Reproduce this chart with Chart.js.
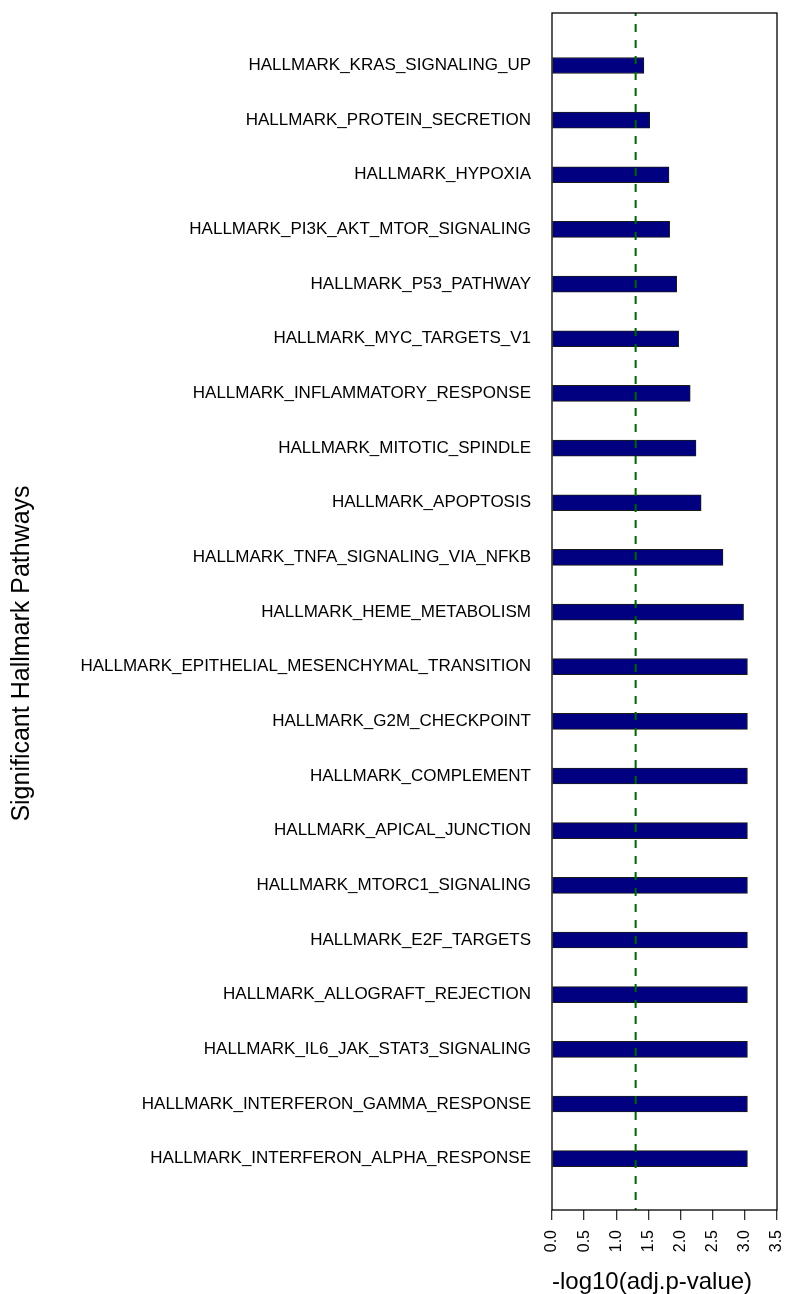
<!DOCTYPE html>
<html>
<head>
<meta charset="utf-8">
<title>Significant Hallmark Pathways</title>
<script src="https://cdn.jsdelivr.net/npm/chart.js@4/dist/chart.umd.min.js"></script>
<style>
  html, body { margin: 0; padding: 0; background: #ffffff; }
  #wrap { width: 786px; height: 1294px; position: relative; }
</style>
</head>
<body>
<div id="wrap"><canvas id="chart" width="786" height="1294"></canvas></div>
<script>
// Pathways, listed top to bottom as they appear on the plot
const pathways = [
  'HALLMARK_KRAS_SIGNALING_UP',
  'HALLMARK_PROTEIN_SECRETION',
  'HALLMARK_HYPOXIA',
  'HALLMARK_PI3K_AKT_MTOR_SIGNALING',
  'HALLMARK_P53_PATHWAY',
  'HALLMARK_MYC_TARGETS_V1',
  'HALLMARK_INFLAMMATORY_RESPONSE',
  'HALLMARK_MITOTIC_SPINDLE',
  'HALLMARK_APOPTOSIS',
  'HALLMARK_TNFA_SIGNALING_VIA_NFKB',
  'HALLMARK_HEME_METABOLISM',
  'HALLMARK_EPITHELIAL_MESENCHYMAL_TRANSITION',
  'HALLMARK_G2M_CHECKPOINT',
  'HALLMARK_COMPLEMENT',
  'HALLMARK_APICAL_JUNCTION',
  'HALLMARK_MTORC1_SIGNALING',
  'HALLMARK_E2F_TARGETS',
  'HALLMARK_ALLOGRAFT_REJECTION',
  'HALLMARK_IL6_JAK_STAT3_SIGNALING',
  'HALLMARK_INTERFERON_GAMMA_RESPONSE',
  'HALLMARK_INTERFERON_ALPHA_RESPONSE'
];

// -log10(adjusted p-value) for each pathway, same order
const negLog10AdjP = [
  1.43, 1.52, 1.82, 1.83, 1.94, 1.97, 2.15, 2.24, 2.32, 2.66,
  2.98, 3.04, 3.04, 3.04, 3.04, 3.04, 3.04, 3.04, 3.04, 3.04, 3.04
];

// x-axis tick values
const xTicks = [0, 0.5, 1.0, 1.5, 2.0, 2.5, 3.0, 3.5];

// significance cut-off (adj. p = 0.05)
const ADJ_P_CUTOFF = 0.05;
const cutoff = -Math.log10(ADJ_P_CUTOFF);

const n = pathways.length;
// bottom row gets position 1, top row gets position n
const rows = pathways.map((name, i) => ({ x: negLog10AdjP[i], y: n - i }));

const FONT = "'Liberation Sans', Arial, Helvetica, sans-serif";

const framePlugin = {
  id: 'frameAndCutoff',
  afterDatasetsDraw(chart) {
    const { ctx, chartArea: a, scales: { x } } = chart;
    const px = x.getPixelForValue(cutoff);
    ctx.save();
    ctx.beginPath();
    ctx.rect(a.left, a.top, a.right - a.left, a.bottom - a.top);
    ctx.clip();
    ctx.strokeStyle = '#006400';
    ctx.lineWidth = 2;
    ctx.setLineDash([8, 8]);
    ctx.lineDashOffset = 5;
    ctx.beginPath();
    ctx.moveTo(px, a.top);
    ctx.lineTo(px, a.bottom);
    ctx.stroke();
    ctx.restore();

    ctx.save();
    ctx.strokeStyle = '#000000';
    ctx.lineWidth = 1.3;
    ctx.strokeRect(a.left, a.top, a.right - a.left, a.bottom - a.top);
    ctx.restore();
  }
};

new Chart(document.getElementById('chart'), {
  type: 'bar',
  data: {
    datasets: [{
      data: rows,
      backgroundColor: '#000080',
      borderColor: '#1a1a1a',
      borderWidth: 1,
      borderSkipped: false,
      barThickness: 16
    }]
  },
  options: {
    indexAxis: 'y',
    responsive: false,
    animation: false,
    events: [],
    layout: { padding: { top: 13, right: 9, bottom: 0, left: 0 } },
    plugins: {
      legend: { display: false },
      tooltip: { enabled: false },
      title: {
        display: true,
        position: 'left',
        text: 'Significant Hallmark Pathways',
        color: '#000000',
        font: { family: FONT, size: 25, weight: 'normal', lineHeight: 1 },
        padding: { top: 10, bottom: 4 }
      }
    },
    scales: {
      x: {
        type: 'linear',
        position: 'bottom',
        min: 0,
        max: 3.5,
        bounds: 'data',
        offset: false,
        afterBuildTicks(scale) {
          scale.ticks = xTicks.map(v => ({ value: v }));
        },
        afterFit(scale) {
          scale.height = 84;
          scale.paddingLeft = 0;
          scale.paddingRight = 0;
        },
        border: { display: false },
        grid: {
          display: true,
          drawOnChartArea: false,
          drawTicks: true,
          tickLength: 10,
          color: '#333333',
          lineWidth: 1.3
        },
        ticks: {
          autoSkip: false,
          minRotation: 90,
          maxRotation: 90,
          padding: 10,
          color: '#000000',
          font: { family: FONT, size: 16 },
          callback: v => Number(v).toFixed(1)
        },
        title: {
          display: true,
          align: 'start',
          text: '-log10(adj.p-value)',
          color: '#000000',
          font: { family: FONT, size: 24, lineHeight: 1 },
          padding: { top: 0, bottom: 0 }
        }
      },
      y: {
        type: 'linear',
        position: 'left',
        min: 0.06,
        max: 21.96,
        bounds: 'data',
        offset: false,
        afterBuildTicks(scale) {
          scale.ticks = pathways.map((_, i) => ({ value: n - i }));
        },
        afterFit(scale) {
          scale.width = 513;
          scale.paddingTop = 0;
          scale.paddingBottom = 0;
        },
        border: { display: false },
        grid: { display: false, drawTicks: false },
        ticks: {
          autoSkip: false,
          padding: 21,
          color: '#000000',
          font: { family: FONT, size: 17 },
          callback: v => pathways[n - v] || ''
        }
      }
    }
  },
  plugins: [framePlugin]
});
</script>
</body>
</html>
